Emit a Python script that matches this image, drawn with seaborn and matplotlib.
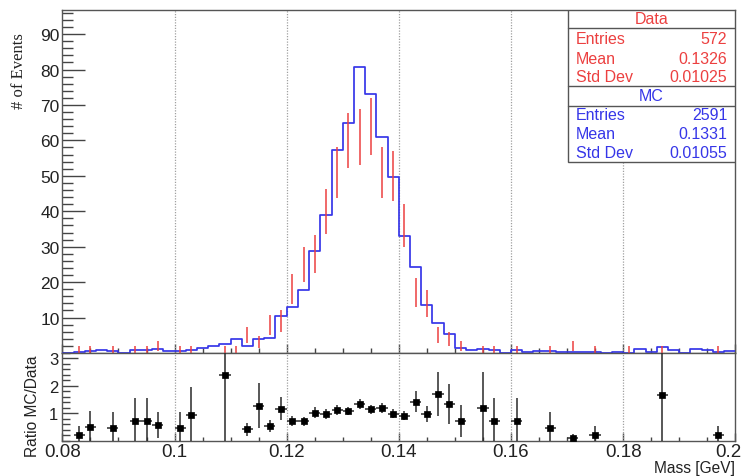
import numpy as np
import pandas as pd
import matplotlib
matplotlib.use("Agg")
import matplotlib.pyplot as plt
import seaborn as sns
from matplotlib.ticker import MultipleLocator, FixedLocator
from matplotlib.patches import Rectangle
from matplotlib.transforms import ScaledTranslation

# ---- binning: 60 bins of 2 MeV between 0.08 and 0.2 GeV ----
x_min, x_max, n_bins = 0.08, 0.20, 60

# data counts per bin
data_counts = [0, 1, 1, 0, 1, 0, 1, 1, 2, 0,
               1, 1, 0, 0, 1, 1, 5, 3, 8, 9,
               18, 25, 28, 40, 51, 60, 61, 64, 51, 50,
               36, 17, 14, 5, 4, 2, 0, 1, 1, 0,
               1, 0, 0, 1, 0, 2, 0, 1, 0, 0,
               1, 0, 0, 1, 0, 0, 0, 0, 1, 0]

# MC prediction per bin (scaled to data)
mc_counts = [0.10, 0.22, 0.49, 0.75, 0.47, 0.00, 0.72, 0.72, 1.14, 0.70,
             0.47, 0.93, 1.40, 2.00, 2.40, 3.90, 2.10, 3.85, 4.30, 10.5,
             13.0, 17.9, 28.8, 38.8, 57.2, 65.0, 80.7, 73.1, 61.0, 49.6,
             33.0, 24.3, 13.6, 8.45, 5.40, 1.45, 0.90, 1.20, 0.72, 0.00,
             0.72, 0.20, 0.70, 0.47, 0.20, 0.23, 0.20, 0.22, 0.00, 0.20,
             0.00, 1.20, 0.20, 1.68, 0.80, 0.00, 1.20, 0.80, 0.22, 0.50]

# weight of a single MC event after scaling
mc_weight = 0.235

# statistics box contents
stats_data = [("Entries", "572"), ("Mean", "0.1326"), ("Std Dev", "0.01025")]
stats_mc = [("Entries", "2591"), ("Mean", "0.1331"), ("Std Dev", "0.01055")]

x_ticks = [0.08, 0.10, 0.12, 0.14, 0.16, 0.18, 0.20]
x_tick_labels = ["0.08", "0.1", "0.12", "0.14", "0.16", "0.18", "0.2"]

RED = "#ec4040"
BLUE = "#3636e8"
FRAME = "#555555"

sns.set_theme(style="white")
plt.rcParams["font.family"] = ["Liberation Sans", "DejaVu Sans"]

edges = np.linspace(x_min, x_max, n_bins + 1)
centers = 0.5 * (edges[:-1] + edges[1:])
half_w = 0.5 * (edges[1] - edges[0])

df = pd.DataFrame({"mass": centers, "data": data_counts, "mc": mc_counts})

fig = plt.figure(figsize=(7.49, 4.77), dpi=100)
ax = fig.add_axes([0.0833, 0.2579, 0.8984, 0.7191])
rax = fig.add_axes([0.0833, 0.0740, 0.8984, 0.1839])

# ---- upper pad: MC histogram and data points ----
sns.histplot(data=df, x="mass", weights="mc", bins=n_bins, binrange=(x_min, x_max),
             element="step", fill=False, color=BLUE, linewidth=1.25, ax=ax, zorder=3)

dsel = df[df["data"] > 0]
ax.errorbar(dsel["mass"], dsel["data"], yerr=np.sqrt(dsel["data"]),
            fmt="none", ecolor=RED, elinewidth=1.1, capsize=0, zorder=4)

ax.set_xlim(x_min, x_max)
ax.set_ylim(0, 96.8)
ax.set_xlabel("")
ax.set_ylabel("")

# ---- lower pad: MC / data ratio ----
rsel = df[(df["data"] > 0) & (df["mc"] > 0)].copy()
rsel["ratio"] = rsel["mc"] / rsel["data"]
rsel["err"] = rsel["ratio"] * np.sqrt(mc_weight / rsel["mc"] + 1.0 / rsel["data"])
rsel = rsel[rsel["ratio"] < 3.2]

rax.errorbar(rsel["mass"], rsel["ratio"], xerr=half_w, yerr=rsel["err"],
             fmt="none", ecolor="#2a2a2a", elinewidth=1.1, capsize=0, zorder=3)
sns.scatterplot(data=rsel, x="mass", y="ratio", marker="s", s=22,
                color="black", edgecolor="black", linewidth=0.5, ax=rax, zorder=4)

rax.set_xlim(x_min, x_max)
rax.set_ylim(0, 3.2)
rax.set_xlabel("")
rax.set_ylabel("")

# ---- axes styling ----
for a in (ax, rax):
    for s in a.spines.values():
        s.set_color(FRAME)
        s.set_linewidth(1.0)
    for gx in x_ticks[1:-1]:
        a.axvline(gx, color="#a0a0a0", linestyle=(0, (1, 1.2)), linewidth=0.9, zorder=1)
    a.xaxis.set_major_locator(FixedLocator(x_ticks))
    a.xaxis.set_minor_locator(MultipleLocator(0.005))

ax.tick_params(axis="x", which="both", direction="in", bottom=True, top=False,
               labelbottom=False, color="#444444", width=1)
ax.tick_params(axis="x", which="major", length=6.5)
ax.tick_params(axis="x", which="minor", length=3.3)
ax.yaxis.set_major_locator(FixedLocator(list(range(10, 100, 10))))
ax.yaxis.set_minor_locator(MultipleLocator(2))
ax.tick_params(axis="y", which="both", direction="in", left=True, right=False,
               color="#444444", width=1, labelsize=12.5, pad=2, labelcolor="#222222")
ax.tick_params(axis="y", which="major", length=16.5)
ax.tick_params(axis="y", which="minor", length=8)

rax.set_xticks(x_ticks)
rax.set_xticklabels(x_tick_labels)
rax.tick_params(axis="x", which="both", direction="in", bottom=True, top=False,
                color="#444444", width=1, labelsize=13.5, pad=2, labelcolor="#222222")
rax.tick_params(axis="x", which="major", length=6)
rax.tick_params(axis="x", which="minor", length=3)
rax.yaxis.set_major_locator(FixedLocator([1, 2, 3]))
rax.yaxis.set_minor_locator(MultipleLocator(0.2))
rax.tick_params(axis="y", which="both", direction="in", left=True, right=False,
                color="#444444", width=1, labelsize=12, pad=3, labelcolor="#222222")
rax.tick_params(axis="y", which="major", length=11.5)
rax.tick_params(axis="y", which="minor", length=6)

# keep the last x label inside the frame
last_lbl = rax.get_xticklabels()[-1]
last_lbl.set_transform(last_lbl.get_transform()
                       + ScaledTranslation(-7 / 100, 0, fig.dpi_scale_trans))

# axis titles
fig.text(0.0254, 1 - 33 / 477, "# of Events", rotation=90, ha="center", va="top",
         fontsize=12, family=["Liberation Serif", "DejaVu Serif"], color="#222222")
fig.text(0.0434, 1 - 406.5 / 477, "Ratio MC/Data", rotation=90, ha="center",
         va="center", fontsize=11.2, color="#222222")
fig.text(735 / 749, 1 - 468.5 / 477, "Mass [GeV]", ha="right", va="center",
         fontsize=11.2, color="#222222")

# ---- statistics box ----
bx0, bx1, by0 = 0.751, 1.0, 0.556
ax.add_patch(Rectangle((bx0, by0), bx1 - bx0, 1 - by0, transform=ax.transAxes,
                       facecolor="white", edgecolor=FRAME, linewidth=1.0, zorder=10))
for yy in (0.9466, 0.7776, 0.721):
    ax.plot([bx0, bx1], [yy, yy], transform=ax.transAxes, color=FRAME,
            linewidth=1.0, zorder=11)

tx_l, tx_r, tx_c = 0.7633, 0.9881, 0.8757
ax.text(tx_c, 0.9738, "Data", transform=ax.transAxes, ha="center", va="center",
        color=RED, fontsize=11.5, zorder=12)
for (name, val), yy in zip(stats_data, (0.9155, 0.8592, 0.8047)):
    ax.text(tx_l, yy, name, transform=ax.transAxes, ha="left", va="center",
            color=RED, fontsize=11.5, zorder=12)
    ax.text(tx_r, yy, val, transform=ax.transAxes, ha="right", va="center",
            color=RED, fontsize=11.5, zorder=12)
ax.text(tx_c, 0.7493, "MC", transform=ax.transAxes, ha="center", va="center",
        color=BLUE, fontsize=11.5, zorder=12)
for (name, val), yy in zip(stats_mc, (0.6939, 0.6385, 0.5831)):
    ax.text(tx_l, yy, name, transform=ax.transAxes, ha="left", va="center",
            color=BLUE, fontsize=11.5, zorder=12)
    ax.text(tx_r, yy, val, transform=ax.transAxes, ha="right", va="center",
            color=BLUE, fontsize=11.5, zorder=12)

fig.savefig("out.png", dpi=100)
